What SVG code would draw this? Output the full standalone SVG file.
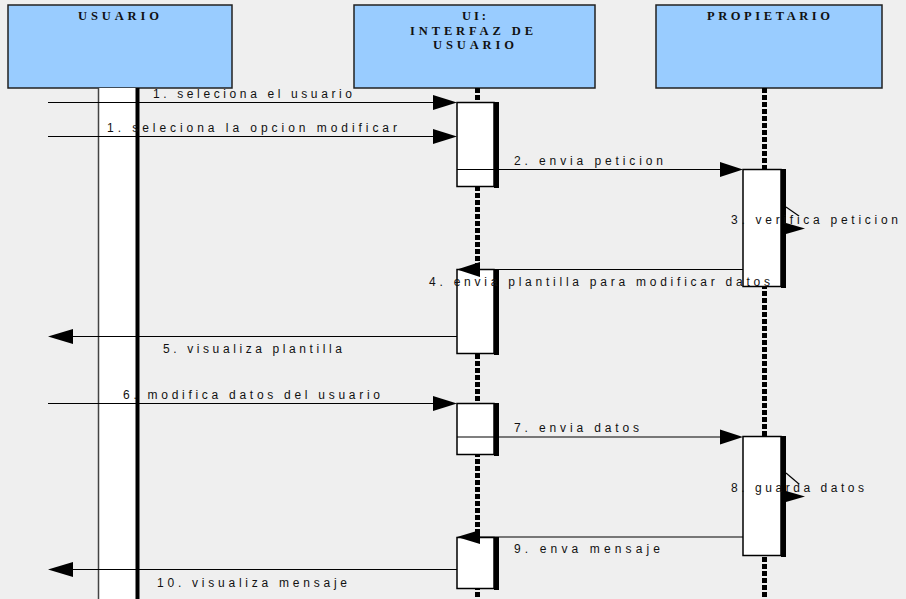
<svg xmlns="http://www.w3.org/2000/svg" width="906" height="599" viewBox="0 0 906 599">
  <defs>
    <style>
      .head { fill: #99ccff; stroke: #222; stroke-width: 1.5; }
      .htxt { font-family: "Liberation Serif", serif; font-size: 12.5px; font-weight: bold; fill: #111; }
      .life { stroke: #000; stroke-width: 5; stroke-dasharray: 5 2; fill: none; }
      .act { fill: #fff; stroke: #000; stroke-width: 1.5; }
      .shadow { fill: #000; }
      .msg { stroke: #000; stroke-width: 1.1; fill: none; }
      .head-fill { fill: #000; }
      .lbl { font-family: "Liberation Sans", Arial, sans-serif; font-size: 12px; fill: #111; }
    </style>
  </defs>

  <rect x="0" y="0" width="906" height="599" fill="#efefef"/>

  <!-- Actor: USUARIO -->
  <g id="usuario">
    <rect class="head" x="8" y="5" width="224" height="83"/>
    <text class="htxt" x="78" y="20" textLength="81" lengthAdjust="spacing">USUARIO</text>
    <rect x="98" y="88" width="39" height="511" fill="#fff"/>
    <line x1="98.5" y1="88" x2="98.5" y2="599" stroke="#444" stroke-width="1.5"/>
    <rect class="shadow" x="135.5" y="88" width="4" height="511"/>
  </g>

  <!-- Object: UI / Interfaz de usuario -->
  <g id="ui">
    <rect class="head" x="354" y="5" width="241" height="83"/>
    <text class="htxt" x="462" y="20" textLength="24" lengthAdjust="spacing">UI:</text>
    <text class="htxt" x="410" y="35" textLength="123" lengthAdjust="spacing">INTERFAZ DE</text>
    <text class="htxt" x="433" y="49" textLength="81" lengthAdjust="spacing">USUARIO</text>
    <line class="life" x1="477.5" y1="88" x2="477.5" y2="599"/>
    <rect class="act" x="457" y="102.5" width="37" height="84"/>
    <rect class="shadow" x="494" y="102" width="5" height="86"/>
    <rect class="act" x="457" y="269.5" width="37" height="84"/>
    <rect class="shadow" x="494" y="269" width="5" height="86"/>
    <rect class="act" x="457" y="403.5" width="37" height="51"/>
    <rect class="shadow" x="494" y="403" width="5" height="53"/>
    <rect class="act" x="457" y="537.5" width="37" height="51"/>
    <rect class="shadow" x="494" y="537" width="5" height="53"/>
  </g>

  <!-- Object: PROPIETARIO -->
  <g id="propietario">
    <rect class="head" x="656" y="5" width="226" height="83"/>
    <text class="htxt" x="707" y="20" textLength="123" lengthAdjust="spacing">PROPIETARIO</text>
    <line class="life" x1="764.5" y1="88" x2="764.5" y2="599"/>
    <rect class="act" x="743" y="169.5" width="38" height="117"/>
    <rect class="shadow" x="781" y="169" width="5" height="119"/>
    <rect class="act" x="743" y="436.5" width="38" height="119"/>
    <rect class="shadow" x="781" y="436" width="5" height="121"/>
  </g>

  <!-- Messages -->
  <g id="connectors">
    <!-- 1. seleciona el usuario -->
    <line class="msg" x1="48" y1="102.5" x2="450" y2="102.5"/>
    <polygon class="head-fill" points="433,95 457,102.5 433,110"/>
    <!-- 1. seleciona la opcion modificar -->
    <line class="msg" x1="48" y1="136.5" x2="450" y2="136.5"/>
    <polygon class="head-fill" points="433,129 457,136.5 433,144"/>
    <!-- 2. envia peticion -->
    <line class="msg" x1="457" y1="169.5" x2="736" y2="169.5"/>
    <polygon class="head-fill" points="720,162 743,169.5 720,177"/>
    <!-- 3. verifica peticion (self) -->
    <line class="msg" x1="786" y1="207" x2="799" y2="216"/>
    <polygon class="head-fill" points="786,223 805,228.5 786,234"/>
    <!-- 4. envia plantilla para modificar datos -->
    <line class="msg" x1="743" y1="269.5" x2="465" y2="269.5"/>
    <polygon class="head-fill" points="480,262 457,269.5 480,277"/>
    <!-- 5. visualiza plantilla -->
    <line class="msg" x1="457" y1="336.5" x2="56" y2="336.5"/>
    <polygon class="head-fill" points="73,329 48,336.5 73,344"/>
    <!-- 6. modifica datos del usuario -->
    <line class="msg" x1="48" y1="403.5" x2="450" y2="403.5"/>
    <polygon class="head-fill" points="433,396 457,403.5 433,411"/>
    <!-- 7. envia datos -->
    <line class="msg" x1="457" y1="437" x2="736" y2="437"/>
    <polygon class="head-fill" points="720,429.5 743,437 720,444.5"/>
    <!-- 8. guarda datos (self) -->
    <line class="msg" x1="786" y1="473" x2="799" y2="484"/>
    <polygon class="head-fill" points="786,491 805,496.5 786,502"/>
    <!-- 9. enva mensaje -->
    <line class="msg" x1="743" y1="537" x2="465" y2="537"/>
    <polygon class="head-fill" points="480,530 457,537 480,544"/>
    <!-- 10. visualiza mensaje -->
    <line class="msg" x1="457" y1="569.5" x2="56" y2="569.5"/>
    <polygon class="head-fill" points="73,562 48,569.5 73,577"/>
  </g>

  <!-- Message labels -->
  <g id="labels">
    <text class="lbl" x="153" y="98" textLength="199" lengthAdjust="spacing">1. seleciona el usuario</text>
    <text class="lbl" x="107" y="132" textLength="290" lengthAdjust="spacing">1. seleciona la opcion modificar</text>
    <text class="lbl" x="514" y="165" textLength="149" lengthAdjust="spacing">2. envia peticion</text>
    <text class="lbl" x="731" y="224" textLength="167" lengthAdjust="spacing">3. verifica peticion</text>
    <text class="lbl" x="429" y="286" textLength="341" lengthAdjust="spacing">4. envia plantilla para modificar datos</text>
    <text class="lbl" x="163" y="353" textLength="179" lengthAdjust="spacing">5. visualiza plantilla</text>
    <text class="lbl" x="123" y="399" textLength="257" lengthAdjust="spacing">6. modifica datos del usuario</text>
    <text class="lbl" x="514" y="432" textLength="125" lengthAdjust="spacing">7. envia datos</text>
    <text class="lbl" x="731" y="492" textLength="133" lengthAdjust="spacing">8. guarda datos</text>
    <text class="lbl" x="514" y="553" textLength="146" lengthAdjust="spacing">9. enva mensaje</text>
    <text class="lbl" x="157" y="587" textLength="190" lengthAdjust="spacing">10. visualiza mensaje</text>
  </g>
</svg>
